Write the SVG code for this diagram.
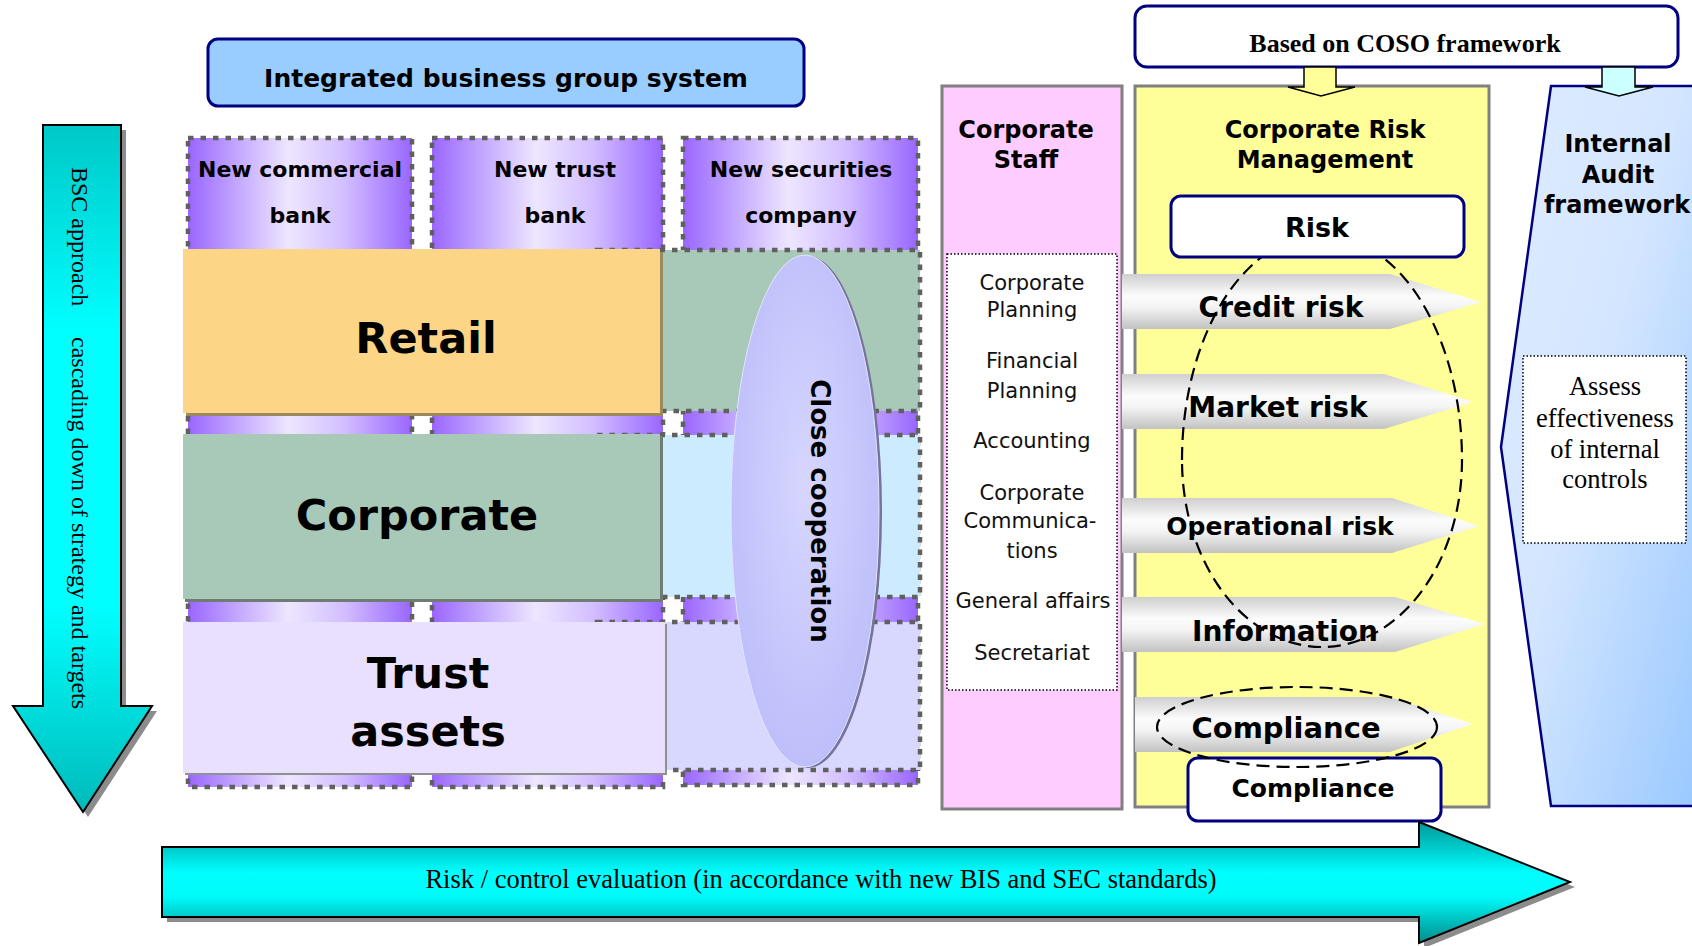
<svg xmlns="http://www.w3.org/2000/svg" width="1692" height="946" viewBox="0 0 1692 946">
<defs>
<style>
.sans{font-family:"DejaVu Sans","Verdana",sans-serif;}
.b{font-weight:bold;}
.serif{font-family:"Liberation Serif","Times New Roman",serif;}
.mid{text-anchor:middle;}
.dash{fill:none;stroke:#606060;stroke-width:4.5;stroke-dasharray:5.5 7;}
.navybox{fill:#fff;stroke:#000080;stroke-width:3;}
.grayarrow{fill:url(#gArrow);stroke:none;}
.dashell{fill:none;stroke:#000;stroke-width:2.2;stroke-dasharray:13 7;}
</style>
<linearGradient id="gPurple" x1="0" y1="0" x2="1" y2="0">
<stop offset="0" stop-color="#9A66FF"/>
<stop offset="0.25" stop-color="#C8B0FF"/>
<stop offset="0.45" stop-color="#EEE6FF"/>
<stop offset="0.7" stop-color="#D2BEFF"/>
<stop offset="1" stop-color="#9966FF"/>
</linearGradient>
<linearGradient id="gArrow" x1="0" y1="0" x2="0" y2="1">
<stop offset="0" stop-color="#CFCFCF"/>
<stop offset="0.4" stop-color="#FCFCFC"/>
<stop offset="0.6" stop-color="#F4F4F4"/>
<stop offset="1" stop-color="#C2C2C2"/>
</linearGradient>
<linearGradient id="gBsc" x1="0" y1="0" x2="0" y2="1">
<stop offset="0" stop-color="#00C8C8"/>
<stop offset="0.3" stop-color="#00FFFF"/>
<stop offset="0.7" stop-color="#00FFFF"/>
<stop offset="1" stop-color="#00BABA"/>
</linearGradient>
<linearGradient id="gEval" gradientUnits="userSpaceOnUse" x1="0" y1="822" x2="0" y2="943">
<stop offset="0" stop-color="#009A9A"/>
<stop offset="0.22" stop-color="#00CCCC"/>
<stop offset="0.42" stop-color="#00FFFF"/>
<stop offset="0.62" stop-color="#00FAFA"/>
<stop offset="0.8" stop-color="#00C4C4"/>
<stop offset="1" stop-color="#008C8C"/>
</linearGradient>
<linearGradient id="gAudit" x1="0" y1="0" x2="1" y2="1">
<stop offset="0" stop-color="#DDEBFF"/>
<stop offset="0.45" stop-color="#D4E6FF"/>
<stop offset="1" stop-color="#99C8FF"/>
</linearGradient>
<radialGradient id="gEll" cx="0.5" cy="0.45" r="0.6">
<stop offset="0" stop-color="#D6D6FF"/>
<stop offset="1" stop-color="#BCBCFA"/>
</radialGradient>
</defs>

<rect x="0" y="0" width="1692" height="946" fill="#fff"/>

<g id="bsc-arrow">
<polygon points="48,130 126,130 126,711 157,711 88,817 18,711 48,711" fill="#8C8C8C"/>
<polygon points="43,125 121,125 121,706 152,706 83,812 13,706 43,706" fill="url(#gBsc)" stroke="#000" stroke-width="2"/>
<g transform="translate(72,167) rotate(90)">
<text class="serif" x="0" y="0" font-size="24" fill="#000">BSC approach</text>
<text class="serif" x="170" y="0" font-size="24" fill="#000">cascading down of strategy and targets</text>
</g>
</g>

<g id="integrated">
<rect x="208" y="39" width="596" height="67" rx="10" fill="#99CCFF" stroke="#000080" stroke-width="3"/>
<text class="sans b mid" x="506" y="87" font-size="25">Integrated business group system</text>
</g>

<g id="columns">
<rect x="188" y="138" width="224" height="649" fill="url(#gPurple)"/>
<rect x="188" y="138" width="224" height="649" class="dash"/>
<rect x="432" y="138" width="231" height="649" fill="url(#gPurple)"/>
<rect x="432" y="138" width="231" height="649" class="dash"/>
<rect x="683" y="138" width="235" height="647" fill="url(#gPurple)"/>
<rect x="683" y="138" width="235" height="647" class="dash"/>
<text class="sans b mid" x="300" y="177" font-size="22">New commercial</text>
<text class="sans b mid" x="300" y="223" font-size="22">bank</text>
<text class="sans b mid" x="555" y="177" font-size="22">New trust</text>
<text class="sans b mid" x="555" y="223" font-size="22">bank</text>
<text class="sans b mid" x="801" y="177" font-size="22">New securities</text>
<text class="sans b mid" x="801" y="223" font-size="22">company</text>
</g>

<g id="col3-cells">
<rect x="597" y="250" width="323" height="161" fill="#A8C8B8"/>
<rect x="597" y="250" width="323" height="161" class="dash"/>
<rect x="597" y="435" width="323" height="162" fill="#CCEBFF"/>
<rect x="597" y="435" width="323" height="162" class="dash"/>
<rect x="597" y="622" width="323" height="148" fill="#D8D8FF"/>
<rect x="597" y="622" width="323" height="148" class="dash"/>
</g>

<g id="retail">
<rect x="186" y="252" width="477" height="164" fill="#9C8A5C"/>
<rect x="183" y="249" width="477" height="164" fill="#FDD587"/>
<text class="sans b mid" x="426" y="353" font-size="43">Retail</text>
</g>

<g id="corporate">
<rect x="185" y="436" width="478" height="166" fill="#6E7C74"/>
<rect x="183" y="434" width="477" height="165" fill="#A8C8B8"/>
<text class="sans b mid" x="417" y="530" font-size="43">Corporate</text>
</g>

<g id="trust">
<rect x="185" y="624" width="482" height="151" fill="#909090"/>
<rect x="183" y="622" width="482" height="151" fill="#E8E0FE"/>
<text class="sans b mid" x="428" y="688" font-size="43">Trust</text>
<text class="sans b mid" x="428" y="746" font-size="43">assets</text>
</g>

<g id="close-cooperation">
<ellipse cx="808" cy="512" rx="74" ry="256" fill="#74749C"/>
<ellipse cx="805" cy="511" rx="74" ry="256" fill="url(#gEll)" stroke="#E4E4FF" stroke-width="1"/>
<text class="sans b mid" transform="translate(811,511) rotate(90)" x="0" y="0" font-size="26">Close cooperation</text>
</g>

<g id="corporate-staff">
<rect x="942" y="86" width="180" height="723" fill="#FFCCFF" stroke="#808080" stroke-width="3"/>
<text class="sans b mid" x="1026" y="138" font-size="24">Corporate</text>
<text class="sans b mid" x="1026" y="168" font-size="24">Staff</text>
<rect x="947" y="254" width="170" height="436" fill="#fff" stroke="#000" stroke-width="1.5" stroke-dasharray="1.5 2"/>
<g class="sans mid" font-size="21" fill="#111">
<text x="1032" y="290">Corporate</text>
<text x="1032" y="317">Planning</text>
<text x="1032" y="368">Financial</text>
<text x="1032" y="398">Planning</text>
<text x="1032" y="448">Accounting</text>
<text x="1032" y="500">Corporate</text>
<text x="1030" y="528">Communica-</text>
<text x="1032" y="558">tions</text>
<text x="1033" y="608">General affairs</text>
<text x="1032" y="660">Secretariat</text>
</g>
</g>

<g id="corporate-risk-management">
<rect x="1135" y="86" width="354" height="721" fill="#FFFF99" stroke="#808080" stroke-width="3"/>
<text class="sans b mid" x="1325" y="138" font-size="24">Corporate Risk</text>
<text class="sans b mid" x="1325" y="168" font-size="24">Management</text>
</g>

<g id="internal-audit">
<path d="M1551,86 L1700,86 L1700,806 L1551,806 L1501,447 Z" fill="url(#gAudit)" stroke="#000080" stroke-width="2.5"/>
<text class="sans b mid" x="1618" y="152" font-size="24">Internal</text>
<text class="sans b mid" x="1618" y="183" font-size="24">Audit</text>
<text class="sans b mid" x="1617" y="213" font-size="24">framework</text>
<rect x="1523" y="356" width="163" height="187" fill="#fff" stroke="#000" stroke-width="1.5" stroke-dasharray="1.5 2"/>
<g class="serif mid" font-size="26.5">
<text x="1605" y="395">Assess</text>
<text x="1605" y="427">effectiveness</text>
<text x="1605" y="458">of internal</text>
<text x="1605" y="488">controls</text>
</g>
</g>

<g id="coso">
<rect x="1135" y="6" width="543" height="61" rx="12" class="navybox"/>
<text class="serif b mid" x="1405" y="52" font-size="26">Based on COSO framework</text>
</g>

<g id="risk-arrows">
<polygon class="grayarrow" points="1122,274 1390,274 1481,302 1390,329 1122,329"/>
<polygon class="grayarrow" points="1122,374 1384,374 1473,402 1384,429 1122,429"/>
<polygon class="grayarrow" points="1122,498 1392,498 1479,526 1392,553 1122,553"/>
<polygon class="grayarrow" points="1122,597 1395,597 1485,624 1395,652 1122,652"/>
<polygon class="grayarrow" points="1135,697 1390,697 1473,724 1390,752 1135,752"/>
<text class="sans b mid" x="1281" y="317" font-size="28">Credit risk</text>
<text class="sans b mid" x="1278" y="417" font-size="28">Market risk</text>
<text class="sans b mid" x="1280" y="535" font-size="25">Operational risk</text>
<text class="sans b mid" x="1285" y="641" font-size="28">Information</text>
<text class="sans b mid" x="1286" y="738" font-size="29">Compliance</text>
</g>

<g id="compliance-box">
<rect x="1188" y="758" width="253" height="63" rx="10" class="navybox"/>
<text class="sans b mid" x="1313" y="797" font-size="25">Compliance</text>
</g>

<g id="connectors">
<path class="dashell" d="M1182,460 A140,225 0 0 1 1462,460 A140,187 0 0 1 1182,460 Z"/>
<ellipse class="dashell" cx="1297" cy="727" rx="140" ry="40"/>
<polygon points="1304,67 1336,67 1336,87 1355,87 1321,96 1288,87 1304,87" fill="#FFFF99" stroke="#000" stroke-width="1.5"/>
<polygon points="1602,67 1635,67 1635,87 1653,87 1619,96 1585,87 1602,87" fill="#CCFFFF" stroke="#000" stroke-width="1.5"/>
</g>

<g id="risk-box">
<rect x="1171" y="196" width="293" height="61" rx="10" class="navybox"/>
<text class="sans b mid" x="1317" y="237" font-size="27">Risk</text>
</g>

<g id="evaluation-arrow">
<polygon points="167,852 1424,852 1424,827 1575,887 1424,948 1424,922 167,922" fill="#8C8C8C"/>
<polygon points="162,847 1419,847 1419,822 1570,882 1419,943 1419,917 162,917" fill="url(#gEval)" stroke="#000" stroke-width="2"/>
<text class="serif mid" x="821" y="888" font-size="26.5">Risk / control evaluation (in accordance with new BIS and SEC standards)</text>
</g>
</svg>
